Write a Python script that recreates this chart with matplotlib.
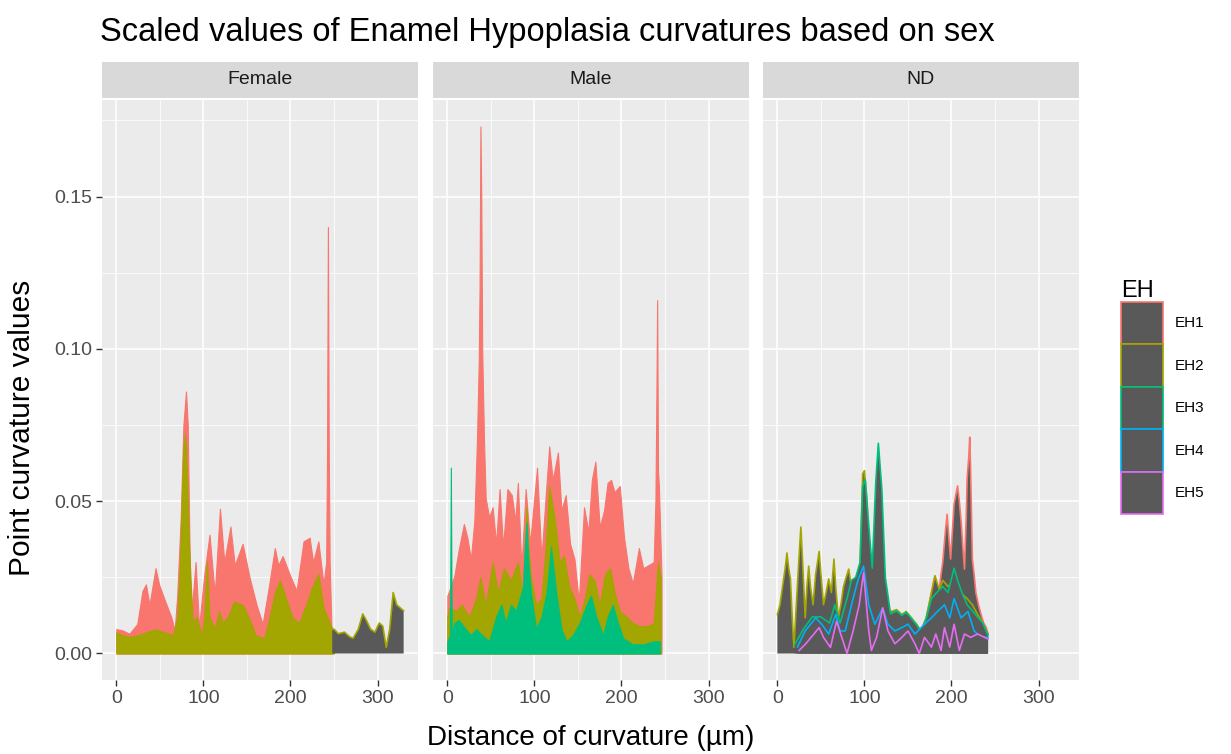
import numpy as np
import matplotlib
matplotlib.use("Agg")
import matplotlib.pyplot as plt
from matplotlib.patches import Patch

plt.rcParams['font.family'] = ['Liberation Sans', 'DejaVu Sans']

# ---- data ----
panels = ["Female", "Male", "ND"]
groups = ["EH1", "EH2", "EH3", "EH4", "EH5"]

female_eh1_x = [0, 7, 15, 24, 30, 34, 38, 45, 49, 55, 63, 67, 70, 74, 77, 80, 82, 84, 86, 91,
                95, 101, 107, 113, 119, 124, 131, 136, 145, 153, 161, 168, 175, 182, 186,
                191, 199, 207, 215, 222, 226, 232, 238, 241, 242, 243, 244, 245, 247, 248]
female_eh1 = [0.008, 0.0076, 0.0065, 0.0097, 0.0206, 0.0227, 0.016, 0.028, 0.0227, 0.018,
              0.012, 0.0076, 0.0195, 0.045, 0.075, 0.086, 0.075, 0.035, 0.012, 0.030,
              0.0087, 0.026, 0.039, 0.0195, 0.0475, 0.030, 0.0417, 0.029, 0.036, 0.025,
              0.016, 0.0097, 0.0216, 0.0346, 0.029, 0.032, 0.026, 0.0206, 0.0368, 0.038,
              0.030, 0.0368, 0.0227, 0.030, 0.066, 0.140, 0.066, 0.030, 0.009, 0.008]

female_eh2_x = [0, 7, 15, 25, 35, 45, 55, 65, 70, 73, 75, 77, 79, 81, 83, 85, 88, 92, 98, 101,
                104, 107, 113, 118, 122, 128, 135, 145, 152, 160, 170, 176, 182, 188, 195,
                202, 210, 218, 225, 232, 238, 245, 248, 250, 255, 262, 268, 272, 278, 283,
                287, 292, 297, 302, 306, 310, 314, 318, 322, 326, 330]
female_eh2 = [0.007, 0.006, 0.0055, 0.006, 0.007, 0.008, 0.007, 0.006, 0.012, 0.03,
              0.05, 0.068, 0.072, 0.06, 0.04, 0.025, 0.01, 0.012, 0.006, 0.012,
              0.030, 0.012, 0.008, 0.014, 0.010, 0.012, 0.017, 0.016, 0.012, 0.006,
              0.005, 0.012, 0.020, 0.024, 0.018, 0.012, 0.010, 0.016, 0.022, 0.026,
              0.015, 0.010, 0.008, 0.008, 0.0065, 0.007, 0.0055, 0.005, 0.008, 0.013,
              0.011, 0.008, 0.007, 0.010, 0.009, 0.002, 0.008, 0.020, 0.016, 0.015, 0.014]

male_eh1_x = [0, 4, 8, 13, 19, 23, 27, 31, 34, 36, 37, 38, 39, 40, 42, 44, 48, 52, 56, 60,
              64, 69, 74, 78, 81, 85, 90, 95, 103, 108, 113, 117, 121, 127, 131, 136, 141,
              146, 151, 157, 162, 166, 170, 175, 180, 184, 188, 192, 198, 203, 208, 213,
              220, 225, 231, 237, 239, 240, 241, 242, 243, 246]
male_eh1 = [0.019, 0.022, 0.0255, 0.034, 0.0425, 0.038, 0.031, 0.0436, 0.07, 0.095,
            0.12, 0.173, 0.148, 0.10, 0.071, 0.051, 0.0447, 0.048, 0.036, 0.054,
            0.035, 0.054, 0.052, 0.0436, 0.056, 0.028, 0.054, 0.036, 0.061, 0.031,
            0.052, 0.068, 0.057, 0.066, 0.047, 0.052, 0.036, 0.031, 0.017, 0.048,
            0.040, 0.057, 0.063, 0.0415, 0.047, 0.056, 0.057, 0.053, 0.055, 0.038,
            0.028, 0.023, 0.0346, 0.028, 0.029, 0.030, 0.05, 0.08, 0.116, 0.06,
            0.055, 0.025]

male_eh2_x = [0, 2, 10, 17, 25, 33, 38, 44, 52, 58, 65, 73, 81, 86, 89, 91, 93, 96, 102, 108,
              113, 117, 123, 129, 134, 140, 146, 152, 158, 163, 169, 175, 181, 187, 192,
              198, 206, 213, 221, 229, 237, 242, 245]
male_eh2 = [0.012, 0.015, 0.014, 0.016, 0.012, 0.018, 0.025, 0.016, 0.030, 0.020,
            0.028, 0.024, 0.030, 0.020, 0.035, 0.048, 0.035, 0.025, 0.016, 0.018,
            0.035, 0.055, 0.045, 0.030, 0.032, 0.022, 0.018, 0.012, 0.018, 0.026,
            0.024, 0.016, 0.026, 0.028, 0.020, 0.014, 0.012, 0.010, 0.009, 0.009,
            0.010, 0.030, 0.025]

male_eh3_x = [0, 3, 4, 5, 8, 13, 21, 27, 33, 40, 48, 56, 62, 67, 73, 79, 87, 89, 91, 93,
              96, 102, 108, 114, 119, 125, 131, 137, 144, 152, 160, 165, 171, 179, 184,
              190, 196, 202, 213, 225, 237, 244]
male_eh3 = [0.004, 0.006, 0.061, 0.006, 0.010, 0.011, 0.008, 0.006, 0.008, 0.006,
            0.004, 0.012, 0.016, 0.010, 0.016, 0.014, 0.022, 0.035, 0.043, 0.030,
            0.020, 0.008, 0.012, 0.020, 0.035, 0.020, 0.008, 0.004, 0.006, 0.010,
            0.016, 0.019, 0.012, 0.006, 0.012, 0.016, 0.010, 0.005, 0.003, 0.003,
            0.004, 0.004]

nd_eh1_x = [165, 171, 177, 181, 184, 186, 188, 190, 193, 195, 197, 199, 201, 203, 205, 207,
            209, 211, 213, 215, 217, 218, 220, 221, 222, 224, 226, 228, 231, 234, 237, 240, 242]
nd_eh1 = [0.0074, 0.0117, 0.020, 0.0255, 0.022, 0.021, 0.026, 0.030, 0.040, 0.0457,
          0.038, 0.031, 0.040, 0.049, 0.052, 0.055, 0.050, 0.0436, 0.035, 0.0277,
          0.045, 0.0574, 0.065, 0.071, 0.060, 0.031, 0.026, 0.020, 0.016, 0.0128,
          0.010, 0.0085, 0.0064]

nd_eh2_x = [0, 3, 6, 9, 11, 13, 15, 17, 19, 21, 23, 25, 27, 29, 32, 34, 36, 38, 41, 44,
            48, 50, 53, 56, 59, 62, 65, 67, 70, 73, 76, 79, 82, 85, 87, 91, 95, 98, 100, 103,
            106, 110, 114, 120, 125, 131, 137, 143, 148, 154, 160, 165, 171, 177, 181,
            186, 190, 196, 203, 210, 218, 224, 230, 236, 242]
nd_eh2 = [0.0128, 0.016, 0.022, 0.028, 0.033, 0.028, 0.0245, 0.012, 0.002, 0.012,
          0.022, 0.032, 0.0415, 0.030, 0.0117, 0.022, 0.0287, 0.022, 0.016, 0.026,
          0.0335, 0.026, 0.016, 0.020, 0.0245, 0.020, 0.031, 0.022, 0.0117, 0.016,
          0.022, 0.025, 0.0277, 0.022, 0.020, 0.024, 0.0287, 0.059, 0.060, 0.050,
          0.030, 0.0266, 0.020, 0.020, 0.015, 0.0138, 0.0144, 0.0128, 0.0138, 0.0117,
          0.0096, 0.0074, 0.0117, 0.020, 0.0255, 0.021, 0.024, 0.022, 0.024, 0.020,
          0.018, 0.016, 0.0128, 0.010, 0.0064]

nd_eh3_x = [20, 30, 40, 50, 60, 66, 72, 80, 85, 90, 95, 98, 101, 105, 109, 113, 116, 120,
            124, 130, 137, 143, 148, 154, 160, 165, 171, 177, 183, 190, 196, 203, 207, 212,
            218, 224, 230, 236, 242]
nd_eh3 = [0.003, 0.008, 0.012, 0.012, 0.010, 0.016, 0.010, 0.018, 0.024, 0.025,
          0.030, 0.055, 0.057, 0.042, 0.028, 0.056, 0.069, 0.054, 0.025, 0.013,
          0.014, 0.0125, 0.0135, 0.0115, 0.0094, 0.007, 0.0115, 0.018, 0.020, 0.022,
          0.020, 0.028, 0.024, 0.020, 0.016, 0.014, 0.012, 0.010, 0.006]

nd_eh4_x = [23, 32, 44, 51, 59, 67, 72, 78, 86, 93, 99, 105, 112, 121, 127, 135, 143, 150,
            158, 169, 177, 184, 192, 198, 203, 211, 219, 226, 234, 242]
nd_eh4 = [0.0021, 0.0074, 0.0117, 0.0096, 0.0064, 0.0128, 0.0074, 0.0074, 0.017, 0.0245,
          0.0287, 0.016, 0.0096, 0.0149, 0.0096, 0.0074, 0.0085, 0.0096, 0.0064, 0.0096,
          0.0117, 0.0138, 0.016, 0.0117, 0.018, 0.0117, 0.0138, 0.0074, 0.0053, 0.0053]

nd_eh5_x = [25, 32, 42, 48, 53, 61, 68, 74, 80, 87, 94, 99, 105, 108, 114, 121, 127, 135,
            143, 150, 158, 163, 169, 177, 182, 188, 192, 198, 203, 209, 215, 222, 230, 238, 242]
nd_eh5 = [0.001, 0.003, 0.0064, 0.0085, 0.0053, 0.002, 0.0106, 0.0053, 0.0, 0.0074,
          0.016, 0.0266, 0.0074, 0.001, 0.0053, 0.015, 0.0074, 0.0032, 0.0053, 0.0074,
          0.0032, 0.0, 0.0053, 0.0021, 0.0064, 0.001, 0.0085, 0.0021, 0.0096, 0.001,
          0.0064, 0.0053, 0.0064, 0.0053, 0.0048]

colors = {"EH1": "#F8766D", "EH2": "#A3A500", "EH3": "#00BF7D",
          "EH4": "#00B0F6", "EH5": "#E76BF3"}
bar_grey = "#595959"

series = {
    "Female": [("EH1", female_eh1_x, female_eh1), ("EH2", female_eh2_x, female_eh2)],
    "Male": [("EH1", male_eh1_x, male_eh1), ("EH2", male_eh2_x, male_eh2),
             ("EH3", male_eh3_x, male_eh3)],
    "ND": [("EH1", nd_eh1_x, nd_eh1), ("EH2", nd_eh2_x, nd_eh2), ("EH3", nd_eh3_x, nd_eh3),
           ("EH4", nd_eh4_x, nd_eh4), ("EH5", nd_eh5_x, nd_eh5)],
}
# dense panels: bar outlines hide the grey fill up to this distance
dense_until = {"Female": 248, "Male": 999, "ND": -1}

W, H = 1231, 754
fig = plt.figure(figsize=(W / 100, H / 100), dpi=100)


def px_axes(l, t, r, b):
    return fig.add_axes([l / W, 1 - b / H, (r - l) / W, (b - t) / H])


lefts = [102, 433, 763]
pw = 316
top, bottom = 100, 680

for i, name in enumerate(panels):
    ax = px_axes(lefts[i], top, lefts[i] + pw, bottom)
    ax.set_facecolor("#EBEBEB")
    ax.set_xlim(-16.5, 346.5)
    ax.set_ylim(-0.0087, 0.1817)
    ax.set_xticks([0, 100, 200, 300])
    ax.set_xticks([50, 150, 250], minor=True)
    ax.set_yticks([0, 0.05, 0.10, 0.15])
    ax.set_yticks([0.025, 0.075, 0.125, 0.175], minor=True)
    ax.grid(which="major", color="white", lw=1.1)
    ax.grid(which="minor", color="white", lw=0.55)
    ax.set_axisbelow(True)
    for s in ax.spines.values():
        s.set_visible(False)
    ax.tick_params(which="minor", length=0)
    ax.tick_params(which="major", colors="#333333", labelcolor="#4D4D4D",
                   labelsize=14, length=4, width=1, pad=3)
    if i == 0:
        ax.set_yticklabels(["0.00", "0.05", "0.10", "0.15"])
    else:
        ax.tick_params(axis="y", length=0, labelleft=False)

    for g, xs, ys in series[name]:
        xs = np.array(xs, dtype=float)
        ys = np.array(ys, dtype=float)
        c = colors[g]
        dense = xs <= dense_until[name]
        if dense.any():
            ax.fill_between(xs, 0, ys, where=dense, interpolate=True,
                            facecolor=c, edgecolor=c, lw=0.8, zorder=2)
        if (~dense).any():
            sparse = xs >= dense_until[name]
            ax.fill_between(xs, 0, ys, where=sparse, interpolate=True,
                            facecolor=bar_grey, edgecolor="none", zorder=2)
            ax.plot(xs[sparse], ys[sparse], color=c, lw=1.2, zorder=2)

    # facet strip
    sax = px_axes(lefts[i], 62, lefts[i] + pw, 98)
    sax.set_facecolor("#D9D9D9")
    sax.set_xticks([])
    sax.set_yticks([])
    for s in sax.spines.values():
        s.set_visible(False)
    sax.text(0.5, 0.5, name, ha="center", va="center", fontsize=14, color="#1A1A1A",
             transform=sax.transAxes)

fig.text(100 / W, 1 - 33 / H, "Scaled values of Enamel Hypoplasia curvatures based on sex",
         fontsize=23.5, ha="left", va="center", color="black")
fig.text(591 / W, 1 - 738 / H, "Distance of curvature (µm)", fontsize=20,
         ha="center", va="center")
fig.text(22 / W, 1 - 428 / H, "Point curvature values", fontsize=21.5,
         ha="center", va="center", rotation=90)

handles = [Patch(facecolor=bar_grey, edgecolor=colors[g], lw=1.2, label=g) for g in groups]
leg = fig.legend(handles=handles, title="EH", loc="upper left",
                 bbox_to_anchor=(1121 / W, 1 - 280 / H), frameon=False,
                 fontsize=11, title_fontsize=17, handlelength=2.75, handleheight=3.9,
                 labelspacing=0.0, handletextpad=0.8, borderaxespad=0, borderpad=0)
leg._legend_box.align = "left"

fig.savefig("out.png", dpi=100)
